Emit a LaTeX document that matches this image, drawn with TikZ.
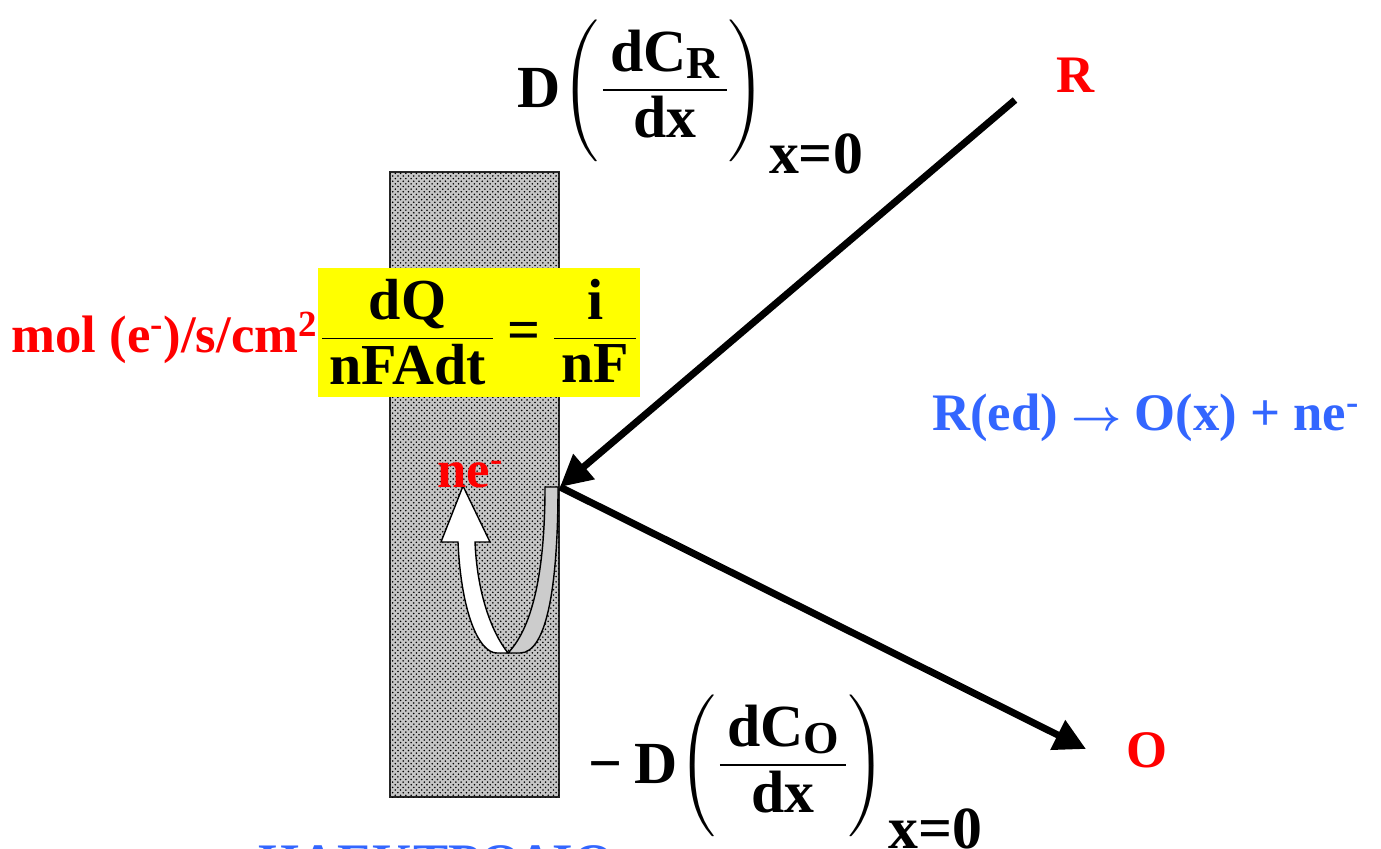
\documentclass[tikz,border=0pt]{standalone}
\usepackage{amsmath}
\usepackage{graphicx}
\usepackage{fontspec}
\setmainfont{Liberation Serif}
\usepackage{xcolor}
\usepackage{tikz}
\usetikzlibrary{arrows.meta, positioning, patterns}

\definecolor{reactblue}{RGB}{51,102,255}
\definecolor{hlyellow}{RGB}{255,255,0}
\newcommand{\tb}[1]{\text{\bfseries #1}}
\newcommand{\pfrac}[2]{\dfrac{\hspace{0.12em}#1\hspace{0.12em}}{\hspace{0.12em}#2\hspace{0.12em}}}
\newcommand{\subsp}[1]{\raisebox{-0.12em}{\fontsize{26}{30}\selectfont\bfseries #1}}
\newcommand{\tallparen}[1]{\scalebox{1}[0.9]{$\left#1\rule[-33.5pt]{0pt}{84pt}\right.$}}
\newcommand{\gradat}[1]{\raisebox{0.12em}{$\tallparen{(}#1\tallparen{)}$}}

\begin{document}
\begin{tikzpicture}[x=0.02cm, y=-0.02cm,
  big/.style={font=\bfseries\fontsize{30}{36}\selectfont, inner sep=0pt},
  eqn/.style={font=\bfseries\fontsize{34}{40}\selectfont, inner sep=0pt},
  flux/.style={-{Triangle[length=18pt, width=18pt]}, line width=4pt}]
\useasboundingbox (0,0) rectangle (1381,848);
\clip (0,0) rectangle (1381,848);
% Electrode
\draw[line width=1.2pt, draw=black!85, fill=gray!45,
  postaction={pattern=crosshatch dots, pattern color=black}]
  (390,172) rectangle (559,797);
\node[big, text=reactblue, anchor=base west] (elabel) at (258,880) {ΗΛΕΚΤΡΟΔΙΟ};
% Charge flow at the surface
\draw[fill=gray!40, line width=0.8pt]
  (545,487) -- (558,487) .. controls (558,580) and (548,653) .. (520,653)
  -- (508,653) .. controls (530,630) and (545,580) .. (545,487) -- cycle;
\draw[fill=white, line width=0.8pt]
  (458,542) .. controls (461,610) and (478,653) .. (497,653) -- (508,653)
  .. controls (490,630) and (477,590) .. (475,542) -- (490,542)
  -- (463,486) -- (441,542) -- cycle;
\node[big, red, anchor=base west] (elec) at (437,487) {ne\textsuperscript{-}};
% Rate at the electrode
\node[font=\bfseries\fontsize{33}{40}\selectfont, fill=hlyellow, minimum width=6.4cm,
  minimum height=2.58cm, inner sep=1pt] (rate) at (479,332.5)
  {$\pfrac{\tb{dQ}}{\tb{nFAdt}} \mathrel{\tb{=}} \pfrac{\tb{i}}{\tb{nF}}$};
\node[big, red, anchor=base east] (units) at (318,352)
  {mol (e\textsuperscript{-})/s/cm\textsuperscript{2}};
% Species and fluxes
\node[big, red] (red) at (1076,75) {R};
\node[big, red] (ox) at (1147,750) {O};
\node[eqn, anchor=base west] (fluxR) at (517,108)
  {D\gradat{\pfrac{\tb{dC}\subsp{R}}{\tb{dx}}}\raisebox{-1.1em}{x=0}};
\node[eqn, anchor=base west] (fluxO) at (588,783)
  {−\hspace{0.2em}D\gradat{\pfrac{\tb{dC}\subsp{O}}{\tb{dx}}}\raisebox{-1.1em}{x=0}};
\node[big, text=reactblue, anchor=base west] (react) at (932,430)
  {R(ed) $\boldsymbol{\rightarrow}$ O(x) + ne\textsuperscript{-}};
\coordinate (surf) at (560,487);
\coordinate (rfrom) at (1015,100);
\coordinate (oto) at (1086,749);
\draw[flux] (rfrom) -- (surf);
\draw[flux] (surf) -- (oto);
\end{tikzpicture}
\end{document}
